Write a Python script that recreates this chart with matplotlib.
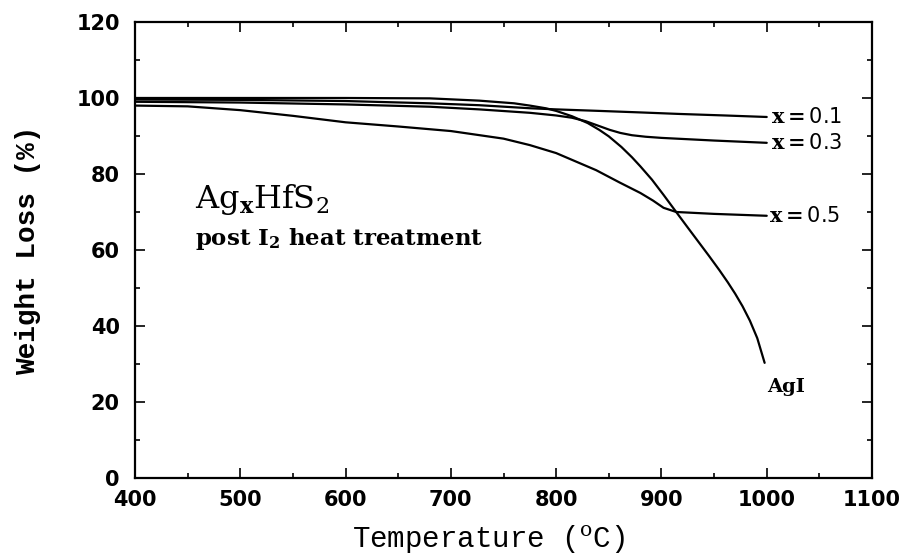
import matplotlib
matplotlib.use('Agg')
import matplotlib.pyplot as plt
from matplotlib.ticker import MultipleLocator

# TGA traces (temperature in C, weight in %)
t_01 = [400, 500, 600, 680, 727, 775, 800, 841, 880, 917, 960, 1000]
w_01 = [99.6, 99.5, 99.2, 98.6, 98.1, 97.3, 97.0, 96.6, 96.2, 95.8, 95.4, 95.0]

t_03 = [400, 500, 600, 680, 727, 775, 800, 815, 828, 840, 851, 861, 872, 885, 900, 950, 1000]
w_03 = [99.0, 98.8, 98.3, 97.7, 97.0, 96.1, 95.4, 94.8, 93.9, 92.7, 91.6, 90.8, 90.2, 89.8, 89.5, 88.8, 88.2]

t_05 = [400, 450, 500, 550, 600, 650, 700, 750, 775, 800, 838, 860, 880, 892, 902, 914, 950, 1000]
w_05 = [98.0, 97.8, 96.8, 95.3, 93.6, 92.5, 91.3, 89.3, 87.6, 85.5, 81.0, 77.8, 75.0, 73.0, 71.1, 70.0, 69.5, 69.0]

t_agi = [400, 500, 600, 680, 727, 760, 775, 790, 800, 815, 830, 841, 850, 862, 872, 880,
         891, 902, 914, 925, 935, 945, 955, 963, 970, 977, 984, 991, 998]
w_agi = [100.0, 100.0, 100.0, 99.9, 99.3, 98.6, 98.0, 97.3, 96.6, 95.2, 93.4, 91.6, 89.9, 87.1, 84.4, 82.0,
         78.5, 74.5, 70.0, 65.9, 62.2, 58.5, 54.7, 51.5, 48.5, 45.2, 41.4, 36.8, 30.3]

curve_labels = [r'$\mathbf{x{=}}$0.1', r'$\mathbf{x{=}}$0.3', r'$\mathbf{x{=}}$0.5', 'AgI']
x_ticks = [400, 500, 600, 700, 800, 900, 1000, 1100]
y_ticks = [0, 20, 40, 60, 80, 100, 120]

plt.rcParams['mathtext.fontset'] = 'dejavuserif'

fig = plt.figure(figsize=(9.06, 5.58), dpi=100)
ax = fig.add_axes([0.149, 0.1434, 0.8135, 0.8172])

for t, w in [(t_01, w_01), (t_03, w_03), (t_05, w_05), (t_agi, w_agi)]:
    ax.plot(t, w, color='black', lw=1.6, solid_capstyle='round', solid_joinstyle='round')

ax.set_xlim(400, 1100)
ax.set_ylim(0, 120)
ax.set_xticks(x_ticks)
ax.set_yticks(y_ticks)
ax.xaxis.set_minor_locator(MultipleLocator(50))
ax.yaxis.set_minor_locator(MultipleLocator(10))
ax.tick_params(which='both', direction='in', top=True, right=True, width=1.2)
ax.tick_params(which='major', length=7)
ax.tick_params(which='minor', length=3.5)
ax.tick_params(axis='x', which='major', pad=9)
ax.tick_params(axis='y', which='major', pad=11)
for lab in ax.get_xticklabels() + ax.get_yticklabels():
    lab.set_fontfamily('DejaVu Sans')
    lab.set_fontsize(15)
    lab.set_fontweight('bold')
for sp in ax.spines.values():
    sp.set_linewidth(1.6)

ax.set_xlabel(r'Temperature ($^\mathrm{o}$C)', family='Liberation Mono',
              fontsize=21)
ax.xaxis.set_label_coords(0.48, -0.1)
ax.set_ylabel('Weight Loss (%)', family='Liberation Mono', fontsize=20,
              fontweight='bold')
ax.yaxis.set_label_coords(-0.128, 0.5)

# curve labels at the right-hand ends
ax.text(1004, w_01[-1], curve_labels[0], family='DejaVu Sans', fontsize=15,
        va='center')
ax.text(1004, w_03[-1], curve_labels[1], family='DejaVu Sans', fontsize=15,
        va='center')
ax.text(1002, w_05[-1], curve_labels[2], family='DejaVu Sans', fontsize=15,
        va='center')
ax.text(1000.5, 24, curve_labels[3], family='DejaVu Serif', fontsize=14,
        fontweight='bold', va='center')

ax.text(457, 71, r'Ag$_\mathbf{x}$HfS$_2$', family='DejaVu Serif', fontsize=23,
        va='baseline')
ax.text(457, 61.3, r'post I$_\mathbf{2}$ heat treatment', family='DejaVu Serif',
        fontsize=16.5, fontweight='bold', va='baseline')

fig.savefig('out.png', dpi=100)
